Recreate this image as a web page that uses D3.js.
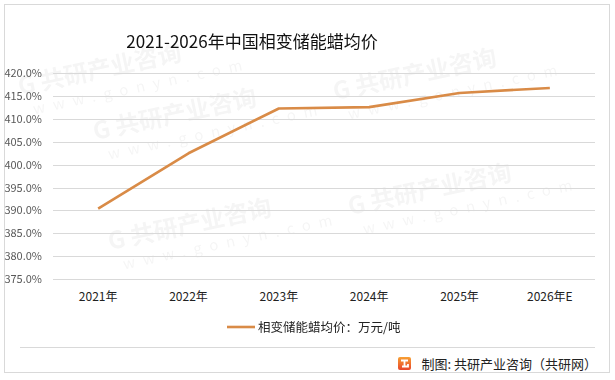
<!DOCTYPE html>
<html><head><meta charset="utf-8">
<script src="https://cdn.jsdelivr.net/npm/d3@7/dist/d3.min.js"></script>
<style>body{margin:0;background:#fff;} text{font-family:"Microsoft YaHei","Noto Sans CJK SC",sans-serif;}</style>
</head><body>
<svg id="c" width="615" height="380"></svg>
<script>
const categories = ["2021年","2022年","2023年","2024年","2025年","2026年E"];
const values = [390.4, 402.5, 412.3, 412.6, 415.7, 416.8];
const yTicks = [375,380,385,390,395,400,405,410,415,420];
const title = "2021-2026年中国相变储能蜡均价";
const seriesName = "相变储能蜡均价：万元/吨";
const source = "制图: 共研产业咨询（共研网）";

const svg = d3.select("#c");
svg.append("rect").attr("x",4.5).attr("y",4.5).attr("width",605).attr("height",368)
  .attr("fill","#fff").attr("stroke","#d9d9d9").attr("stroke-width",1);

// watermarks (kept inside the frame)
const wm = svg.append("g").attr("fill","#000").attr("opacity",0.04).style("font-weight","bold");
const wmPos = [[95,140],[335,100],[110,250],[350,215],[20,95]];
wmPos.forEach(([x,y])=>{
  const g = wm.append("g").attr("transform",`translate(${x},${y}) rotate(-12)`);
  g.append("text").attr("x",0).attr("y",0).attr("font-size",24).text("G 共研产业咨询");
  g.append("text").attr("x",10).attr("y",22).attr("font-size",15).attr("letter-spacing",8).style("font-weight","normal").text("www.gonyn.com");
});

const x = d3.scaleBand().domain(categories).range([53,595]);
const y = d3.scaleLinear().domain([372.8,420]).range([289,73.3]);

svg.append("g").selectAll("line").data(yTicks).join("line")
  .attr("x1",53).attr("x2",595).attr("y1",d=>Math.round(y(d))+0.5).attr("y2",d=>Math.round(y(d))+0.5)
  .attr("stroke","#d9d9d9").attr("stroke-width",1);

const yAxis = d3.axisLeft(y).tickValues(yTicks).tickFormat(d=>d.toFixed(1)+"%").tickSize(0).tickPadding(0);
const ya = svg.append("g").attr("transform","translate(42,0)").call(yAxis);
ya.select(".domain").remove();
ya.selectAll("text").attr("font-size",11).attr("fill","#595959").style("font-family","'Microsoft YaHei','Noto Sans CJK SC',sans-serif");

const xAxis = d3.axisBottom(x).tickSize(0).tickPadding(0);
const xa = svg.append("g").attr("transform","translate(0,292)").call(xAxis);
xa.select(".domain").remove();
xa.selectAll("text").attr("font-size",12).attr("fill","#222").style("font-family","'Microsoft YaHei','Noto Sans CJK SC',sans-serif");

const line = d3.line().x((d,i)=>x(categories[i])+x.bandwidth()/2).y(d=>y(d));
svg.append("path").datum(values).attr("d",line).attr("fill","none")
  .attr("stroke","#D98B47").attr("stroke-width",2.6).attr("stroke-linejoin","round");

svg.append("text").attr("x",252).attr("y",48).attr("text-anchor","middle").attr("font-size",17).attr("fill","#111").text(title);

svg.append("line").attr("x1",227).attr("x2",255).attr("y1",327).attr("y2",327).attr("stroke","#D98B47").attr("stroke-width",2.6);
svg.append("text").attr("x",258).attr("y",331.5).attr("font-size",12.5).attr("fill","#222").text(seriesName);

svg.append("line").attr("x1",20).attr("x2",595).attr("y1",347.5).attr("y2",347.5).attr("stroke","#d9d9d9");
// logo
const lg = svg.append("g").attr("transform","translate(398,357)");
const grad = svg.append("defs").append("linearGradient").attr("id","lgG").attr("x1",0).attr("y1",0).attr("x2",0).attr("y2",1);
grad.append("stop").attr("offset",0).attr("stop-color","#f7a033");
grad.append("stop").attr("offset",1).attr("stop-color","#e8452b");
lg.append("rect").attr("width",13).attr("height",13).attr("rx",2).attr("fill","url(#lgG)");
lg.append("path").attr("d","M3,3.5 H10 M6.5,3.5 V9.5 M4,9.5 H10 V7").attr("stroke","#fff").attr("stroke-width",1.8).attr("fill","none");
svg.append("text").attr("x",597).attr("y",368.5).attr("text-anchor","end").attr("font-size",13).attr("fill","#222").text(source);
</script>
</body></html>
